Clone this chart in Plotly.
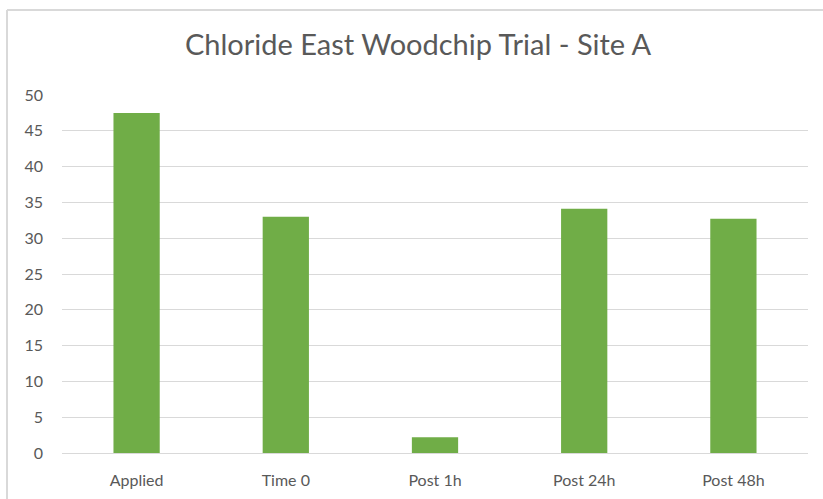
import plotly.graph_objects as go

categories = ["Applied", "Time 0", "Post 1h", "Post 24h", "Post 48h"]
values = [47.5, 33.0, 2.2, 34.1, 32.7]
y_ticks = [0, 5, 10, 15, 20, 25, 30, 35, 40, 45, 50]

L, R, T, B = 62, 15, 95, 46
W, H = 823, 499
pw, ph = W - L - R, H - T - B

fig = go.Figure(go.Bar(x=categories, y=values, marker=dict(color="#70AD47", line=dict(width=0)),
                       hoverinfo="x+y"))

fig.update_layout(
    width=W, height=H,
    margin=dict(l=L, r=R, t=T, b=B, autoexpand=False),
    paper_bgcolor="white", plot_bgcolor="white",
    bargap=0.69,
    showlegend=False,
    title=dict(text="Chloride East Woodchip Trial - Site A", x=0.508, xanchor="center",
               y=1 - 45/H, yanchor="middle",
               font=dict(family="Lato, Open Sans, sans-serif", size=29, color="#595959")),
    font=dict(family="Lato, Open Sans, sans-serif", size=16, color="#595959"),
)
fig.update_yaxes(range=[0, 50], tickvals=y_ticks, showgrid=True, gridcolor="#D9D9D9", gridwidth=1,
                 zeroline=False, showline=False, ticks="", ticklabelstandoff=18, automargin=False)
fig.update_xaxes(showline=True, linecolor="#D9D9D9", linewidth=1, ticks="", ticklabelstandoff=13,
                 automargin=False)

x_left = (7 - L) / pw
y_top = (H - 10 - B) / ph
fig.add_shape(type="line", xref="paper", yref="paper", x0=x_left, x1=(W - L) / pw, y0=y_top, y1=y_top,
              line=dict(color="#D9D9D9", width=2))
fig.add_shape(type="line", xref="paper", yref="paper", x0=x_left, x1=x_left, y0=-B / ph, y1=y_top,
              line=dict(color="#D9D9D9", width=2))

fig.write_html("out.html", config={"displayModeBar": False},
               post_script="document.body.style.margin='0';document.body.style.overflow='hidden';")
